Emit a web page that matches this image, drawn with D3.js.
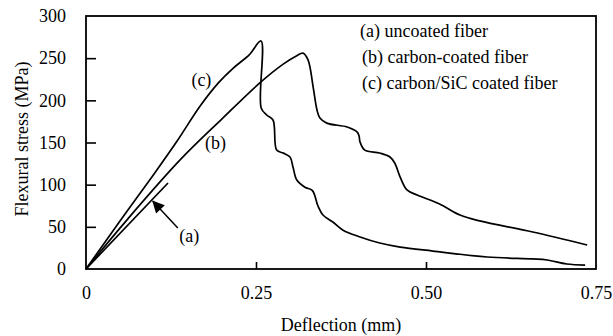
<!DOCTYPE html>
<html>
<head>
<meta charset="utf-8">
<script src="https://cdn.jsdelivr.net/npm/d3@7"></script>
<style>
  body { margin: 0; background: #fff; }
</style>
</head>
<body>
<svg></svg>
<script>
// Flexural stress vs deflection, three fibers

let width = 613;
let height = 336;
let serif = '"Liberation Serif", "Times New Roman", serif';

let curveA = [[0, 0], [0.1206, 102]];

let curveB = [[0, 0], [0.06, 58], [0.138, 129], [0.2, 178], [0.256, 221], [0.29, 243],
  [0.31, 253], [0.319, 256], [0.3265, 248], [0.334, 216], [0.3397, 188.5], [0.344, 179],
  [0.354, 173], [0.384, 168.4], [0.3985, 162.5], [0.4015, 158], [0.403, 150.6], [0.41, 141],
  [0.432, 137.5], [0.447, 132.8], [0.454, 125.7], [0.462, 109], [0.472, 93.7], [0.487, 87.7],
  [0.52, 77], [0.55, 64], [0.579, 57], [0.657, 43.9], [0.737, 28.5]];

let curveC = [[0, 0], [0.05, 57], [0.0985, 111], [0.135, 153], [0.1676, 193], [0.195, 221],
  [0.2162, 238], [0.24, 254], [0.2574, 270.4], [0.2576, 191], [0.2657, 182.6], [0.275, 176.7],
  [0.2804, 141], [0.29, 137.5], [0.3, 132.8], [0.3044, 121], [0.31, 105.5], [0.322, 97],
  [0.333, 93], [0.341, 75], [0.3485, 64], [0.363, 55.7], [0.378, 46], [0.403, 38],
  [0.432, 30.8], [0.462, 26], [0.51, 21.3], [0.59, 14.2], [0.657, 11.9], [0.678, 10.7],
  [0.707, 5.9], [0.734, 4.7]];

let xTicks = [0, 0.25, 0.5, 0.75];
let xTickLabels = ['0', '0.25', '0.50', '0.75'];
let yTicks = [0, 50, 100, 150, 200, 250, 300];

let legendLabels = ['(a) uncoated fiber', '(b) carbon-coated fiber', '(c) carbon/SiC coated fiber'];

// curve tags: [label, x, y]
let curveTags = [['(a)', 0.137, 40], ['(b)', 0.175, 150], ['(c)', 0.155, 225]];
let arrowA = [[0.135, 48.6], [0.098, 80.6]];

let xScale = d3.scaleLinear().domain([0, 0.75]).range([86, 596]);
let yScale = d3.scaleLinear().domain([0, 300]).range([269, 16]);

let svg = d3.select('svg')
  .attr('width', width)
  .attr('height', height);

// frame
svg.append('rect')
  .attr('x', xScale(0))
  .attr('y', yScale(300))
  .attr('width', xScale(0.75) - xScale(0))
  .attr('height', yScale(0) - yScale(300))
  .attr('fill', 'none')
  .attr('stroke', '#000')
  .attr('stroke-width', 1.8);

// y axis: inward ticks
let yAxis = d3.axisLeft(yScale)
  .tickValues(yTicks)
  .tickSizeInner(-10)
  .tickSizeOuter(0)
  .tickPadding(20);

let gy = svg.append('g')
  .attr('transform', 'translate(' + xScale(0) + ',0)')
  .call(yAxis);

// x axis: inward ticks
let xAxis = d3.axisBottom(xScale)
  .tickValues(xTicks)
  .tickFormat((d, i) => xTickLabels[i])
  .tickSizeInner(-7)
  .tickSizeOuter(0)
  .tickPadding(17);

let gx = svg.append('g')
  .attr('transform', 'translate(0,' + yScale(0) + ')')
  .call(xAxis);

[gx, gy].forEach(g => {
  g.attr('font-family', serif).attr('font-size', 18);
  g.select('.domain').remove();
  g.selectAll('line').attr('stroke', '#000').attr('stroke-width', 1.6);
  g.selectAll('text').attr('fill', '#000');
});
gx.selectAll('.tick')
  .filter(d => d === 0 || d === 0.75)
  .select('line').remove();
gy.selectAll('.tick')
  .filter(d => d === 0 || d === 300)
  .select('line').remove();

// curves
let line = d3.line()
  .x(d => xScale(d[0]))
  .y(d => yScale(d[1]))
  .curve(d3.curveCatmullRom.alpha(0.5));

svg.selectAll('path.curve')
  .data([curveA, curveB, curveC])
  .enter()
  .append('path')
  .attr('class', 'curve')
  .attr('d', line)
  .attr('fill', 'none')
  .attr('stroke', '#000')
  .attr('stroke-width', 1.7);

// arrow to curve (a)
svg.append('defs').append('marker')
  .attr('id', 'head')
  .attr('viewBox', '0 0 10 10')
  .attr('refX', 9.5)
  .attr('refY', 5)
  .attr('markerWidth', 16)
  .attr('markerHeight', 12)
  .attr('markerUnits', 'userSpaceOnUse')
  .attr('orient', 'auto')
  .append('path')
  .attr('d', 'M0,0 L10,5 L0,10 z')
  .attr('fill', '#000');

svg.append('line')
  .attr('x1', xScale(arrowA[0][0]))
  .attr('y1', yScale(arrowA[0][1]))
  .attr('x2', xScale(arrowA[1][0]))
  .attr('y2', yScale(arrowA[1][1]))
  .attr('stroke', '#000')
  .attr('stroke-width', 1.5)
  .attr('marker-end', 'url(#head)');

svg.selectAll('text.tag')
  .data(curveTags)
  .enter()
  .append('text')
  .attr('class', 'tag')
  .attr('x', d => xScale(d[1]))
  .attr('y', d => yScale(d[2]))
  .attr('dy', '0.35em')
  .attr('font-family', serif)
  .attr('font-size', 18)
  .text(d => d[0]);

// legend
svg.selectAll('text.legend')
  .data(legendLabels)
  .enter()
  .append('text')
  .attr('class', 'legend')
  .attr('x', (d, i) => i === 0 ? 360 : 362)
  .attr('y', (d, i) => 37 + i * 26)
  .attr('font-family', serif)
  .attr('font-size', 18)
  .text(d => d);

// axis titles
svg.append('text')
  .attr('x', (xScale(0) + xScale(0.75)) / 2)
  .attr('y', 331)
  .attr('text-anchor', 'middle')
  .attr('font-family', serif)
  .attr('font-size', 18)
  .text('Deflection (mm)');

svg.append('text')
  .attr('transform', 'rotate(-90)')
  .attr('x', -139)
  .attr('y', 28)
  .attr('text-anchor', 'middle')
  .attr('font-family', serif)
  .attr('font-size', 18)
  .text('Flexural stress (MPa)');
</script>
</body>
</html>
